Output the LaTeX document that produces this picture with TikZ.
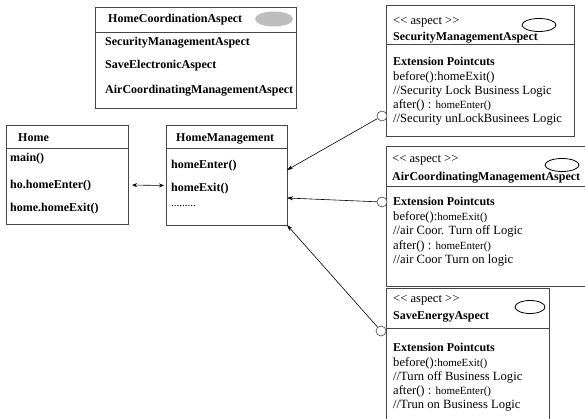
\documentclass[tikz,border=0pt]{standalone}
\usepackage{fontspec}
\setmainfont{Liberation Serif}
\usetikzlibrary{arrows.meta, positioning, shapes.geometric}
\definecolor{my_gray}{RGB}{190, 190, 190}
\definecolor{my_line}{RGB}{70, 70, 70}
\tikzset {
  umlbox/.style = {draw=my_line, line width=0.7pt, rectangle, anchor=north west, inner sep=0, outer sep=0},
  sep/.style = {draw=my_line, line width=0.7pt},
  txt/.style = {anchor=base west, inner sep=0, font=\fontsize{12.6}{14}\selectfont},
  btxt/.style = {anchor=base west, inner sep=0, font=\fontsize{12}{14}\selectfont\bfseries},
  badge/.style = {draw, ellipse, thick, inner sep=0, minimum width=34pt, minimum height=13pt},
  lolli/.style = {draw=my_line, circle, fill=white, minimum size=10pt, inner sep=0, line width=0.6pt},
  line/.style = {-{Stealth[length=6pt, width=4pt]}, line width=0.6pt, color=black},
  dline/.style = {{Stealth[length=5pt, width=4pt]}-{Stealth[length=5pt, width=4pt]}, line width=0.6pt, color=black}
}
\newcommand{\sm}[1]{{\fontsize{11}{12}\selectfont #1}}
\newcommand{\stereo}{\mbox{<}\mbox{<} aspect \mbox{>}\mbox{>}}

\begin{document}
\begin{tikzpicture}[x=1pt, y=-1pt]
    \clip (0,0) rectangle (585,419);

    % aspect overview
    \node[umlbox, minimum width=201pt, minimum height=101pt] (hca) at (95,7) {};
    \draw[sep] (hca.west |- 0,32) -- (hca.east |- 0,32);
    \node[ellipse, fill=my_gray, inner sep=0, minimum width=38pt, minimum height=15pt] (hcaicon) at (274,19) {};
    \node[btxt] (hcaname) at (108,23) {HomeCoordinationAspect};
    \node[btxt] (hca1) at (105,46) {SecurityManagementAspect};
    \node[btxt] (hca2) at (105,69) {SaveElectronicAspect};
    \node[btxt] (hca3) at (105,94) {AirCoordinatingManagementAspect};

    % classes
    \node[umlbox, minimum width=122pt, minimum height=99pt] (home) at (6,125) {};
    \draw[sep] (home.west |- 0,148) -- (home.east |- 0,148);
    \node[btxt] (homename) at (18,142) {Home};
    \node[btxt] (home1) at (10,162) {main()};
    \node[btxt] (home2) at (10,189) {ho.homeEnter()};
    \node[btxt] (home3) at (10,212) {home.homeExit()};

    \node[umlbox, minimum width=121pt, minimum height=100pt] (hm) at (166,125) {};
    \draw[sep] (hm.west |- 0,148) -- (hm.east |- 0,148);
    \node[btxt] (hmname) at (176,142) {HomeManagement};
    \node[btxt] (hm1) at (171,169) {homeEnter()};
    \node[btxt] (hm2) at (171,192) {homeExit()};
    \node[txt] (hm3) at (171,207) {\sm{.........}};

    % aspects
    \node[umlbox, minimum width=188pt, minimum height=131pt] (sec) at (386,5) {};
    \draw[sep] (sec.west |- 0,44) -- (sec.east |- 0,44);
    \node[badge] (secicon) at (539,25) {};
    \node[txt] (secst) at (393,25) {\stereo};
    \node[btxt] (secname) at (393,41) {SecurityManagementAspect};
    \node[btxt] (secpc) at (393,66) {Extension Pointcuts};
    \node[txt] (sec1) at (393,81) {before():homeExit()};
    \node[txt] (sec2) at (393,95) {//Security Lock Business Logic};
    \node[txt] (sec3) at (393,109) {after() : \sm{homeEnter()}};
    \node[txt] (sec4) at (393,123) {//Security unLockBusinees Logic};

    \node[umlbox, minimum width=210pt, minimum height=140pt] (air) at (386,146) {};
    \draw[sep] (air.west |- 0,186) -- (air.east |- 0,186);
    \node[badge] (airicon) at (562,165) {};
    \node[txt] (airst) at (392,163) {\stereo};
    \node[btxt] (airname) at (392,181) {AirCoordinatingManagementAspect};
    \node[btxt] (airpc) at (393,206) {Extension Pointcuts};
    \node[txt] (air1) at (393,221) {before():\sm{homeExit()}};
    \node[txt] (air2) at (393,235) {//air Coor. Turn off Logic};
    \node[txt] (air3) at (393,249) {after() : \sm{homeEnter()}};
    \node[txt] (air4) at (393,263) {//air Coor Turn on logic};

    \node[umlbox, minimum width=163pt, minimum height=140pt] (save) at (386,288) {};
    \draw[sep] (save.west |- 0,328) -- (save.east |- 0,328);
    \node[badge, minimum width=30pt] (saveicon) at (530,307) {};
    \node[txt] (savest) at (393,302) {\stereo};
    \node[btxt] (savename) at (393,319) {SaveEnergyAspect};
    \node[btxt] (savepc) at (393,351) {Extension Pointcuts};
    \node[txt] (save1) at (393,366) {before():\sm{homeExit()}};
    \node[txt] (save2) at (393,380) {//Turn off Business Logic};
    \node[txt] (save3) at (393,394) {after() : \sm{homeEnter()}};
    \node[txt] (save4) at (393,408) {//Trun on Business Logic};

    % interfaces
    \node[lolli] (secport) at (382,116) {};
    \node[lolli] (airport) at (382,202) {};
    \node[lolli] (saveport) at (381,331) {};

    \draw[dline, shorten <=4pt, shorten >=2pt] ([yshift=-10.5pt]home.east) -- ([yshift=-10.5pt]hm.west);
    \draw[line] (secport) -- ([yshift=5pt]hm.east);
    \draw[line] (airport) -- ([yshift=-23pt]hm.east);
    \draw[line] (saveport) -- (hm.south east);

\end{tikzpicture}
\end{document}
